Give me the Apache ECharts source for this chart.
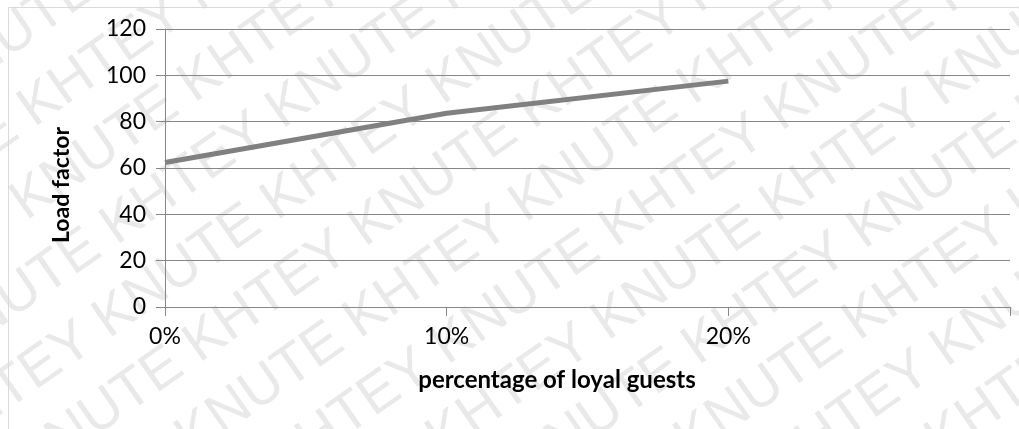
<!DOCTYPE html>
<html>
<head>
<meta charset="utf-8">
<script src="https://cdn.jsdelivr.net/npm/echarts@6/dist/echarts.min.js"></script>
<style>
  html, body { margin: 0; padding: 0; background: #fff; }
  #chart { width: 1019px; height: 429px; }
</style>
</head>
<body>
<div id="chart"></div>
<script>
// Share of loyal guests vs. load factor
const categories = ['0%', '10%', '20%', ''];
const loadFactor = [62.4, 83.6, 97.5];
const yTicks = { min: 0, max: 120, interval: 20 };
const xTitle = 'percentage of loyal guests';
const yTitle = 'Load factor';
const watermarkWords = ['KNUTE', 'KHTEY'];

const FONT = 'Lato, "Open Sans", sans-serif';
const AXIS_GREY = '#878787';

// diagonal background watermark rows
function watermarkRows() {
  const ang = 35 * Math.PI / 180;
  const nx = Math.sin(ang), ny = Math.cos(ang);
  const dx = Math.cos(ang), dy = -Math.sin(ang);
  const rowGap = 72;
  const rows = [];
  for (let i = -10; i <= 12; i++) {
    const words = [];
    for (let k = 0; k < 12; k++) words.push(watermarkWords[(k + i + 200) % 2]);
    const shift = (i % 2 === 0) ? 0 : 60;
    rows.push({
      type: 'text',
      z: -10,
      silent: true,
      x: 510 + i * rowGap * nx + shift * dx,
      y: 215 + i * rowGap * ny + shift * dy,
      rotation: ang,
      style: {
        text: words.join(' '),
        fill: '#e9e9e9',
        font: '56px "Liberation Sans", "DejaVu Sans", sans-serif',
        textAlign: 'center',
        textVerticalAlign: 'middle'
      }
    });
  }
  return rows;
}

const chart = echarts.init(document.getElementById('chart'), null, { renderer: 'canvas' });
chart.setOption({
  animation: false,
  backgroundColor: '#ffffff',
  grid: { left: 165, right: 9, top: 29, bottom: 122, containLabel: false },
  xAxis: {
    type: 'category',
    data: categories,
    boundaryGap: false,
    axisLine: { show: true, lineStyle: { color: AXIS_GREY, width: 1 } },
    axisTick: { show: true, length: 9, lineStyle: { color: AXIS_GREY } },
    axisLabel: { color: '#000', fontSize: 23, fontFamily: FONT, margin: 18 },
    splitLine: { show: false }
  },
  yAxis: {
    type: 'value',
    min: yTicks.min,
    max: yTicks.max,
    interval: yTicks.interval,
    axisLine: { show: true, lineStyle: { color: AXIS_GREY, width: 1 } },
    axisTick: { show: true, length: 9, lineStyle: { color: AXIS_GREY } },
    axisLabel: { color: '#000', fontSize: 23, fontFamily: FONT, margin: 19 },
    splitLine: { show: true, lineStyle: { color: AXIS_GREY, width: 1 } }
  },
  series: [{
    type: 'line',
    data: loadFactor,
    symbol: 'none',
    lineStyle: { color: '#808080', width: 5 },
    itemStyle: { color: '#808080' },
    z: 3
  }],
  graphic: [
    ...watermarkRows(),
    {
      type: 'rect', z: -5, silent: true,
      shape: { x: 8.5, y: 7.5, width: 1200, height: 600 },
      style: { fill: 'none', stroke: '#d9d9d9', lineWidth: 1 }
    },
    {
      type: 'text', x: 62, y: 185, rotation: Math.PI / 2,
      style: { text: yTitle, font: 'bold 23px ' + FONT, fill: '#000', textAlign: 'center', textVerticalAlign: 'middle' }
    },
    {
      type: 'text', x: 557, y: 380,
      style: { text: xTitle, font: 'bold 24px ' + FONT, fill: '#000', textAlign: 'center', textVerticalAlign: 'middle' }
    }
  ]
});
</script>
</body>
</html>
